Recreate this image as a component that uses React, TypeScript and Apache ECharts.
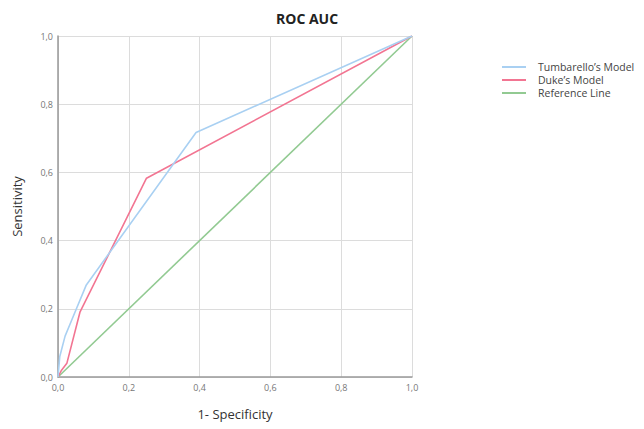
import React, { useEffect, useRef } from "react";
import * as echarts from "echarts";

const tumbFpr = [0, 0.005, 0.02, 0.04, 0.08, 0.39, 1];
const tumbTpr = [0, 0.06, 0.12, 0.17, 0.27, 0.717, 1];
const dukeFpr = [0, 0.01, 0.025, 0.062, 0.25, 1];
const dukeTpr = [0, 0.02, 0.04, 0.19, 0.583, 1];
const refFpr = [0, 1];
const refTpr = [0, 1];
const seriesNames = ["Tumbarello\u2019s Model", "Duke\u2019s Model", "Reference Line"];
const colors = ["#A9D0F2", "#F27592", "#92CA92"];

const pairs = (xs: number[], ys: number[]) => xs.map((x, i) => [x, ys[i]]);

export default function App() {
  const ref = useRef<HTMLDivElement>(null);
  useEffect(() => {
    const chart = echarts.init(ref.current!, null, { renderer: "svg" });
    const font = "'Open Sans', 'Noto Sans', sans-serif";
    const datasets = [pairs(tumbFpr, tumbTpr), pairs(dukeFpr, dukeTpr), pairs(refFpr, refTpr)];
    chart.setOption({
      animation: false,
      textStyle: { fontFamily: font },
      title: {
        text: "ROC AUC",
        left: 271,
        top: 6,
        textStyle: { fontSize: 14, fontWeight: "bold", color: "#222", fontFamily: font },
      },
      legend: {
        orient: "vertical",
        left: 497,
        top: 56,
        itemWidth: 24,
        itemHeight: 2,
        itemGap: 1,
        icon: "rect",
        data: seriesNames,
        textStyle: { fontSize: 10.5, lineHeight: 12, color: "#444", fontFamily: font, padding: [0, 0, 0, 7] },
      },
      grid: { left: 58, right: 232, top: 36, bottom: 52 },
      xAxis: {
        type: "value",
        min: 0,
        max: 1,
        interval: 0.2,
        name: "1- Specificity",
        nameLocation: "middle",
        nameGap: 30,
        nameTextStyle: { fontSize: 13, color: "#333", fontFamily: font },
        axisLine: { lineStyle: { color: "#999", width: 1.5 } },
        axisTick: { show: false },
        axisLabel: {
          fontSize: 9,
          color: "#777",
          margin: 6,
          formatter: (v: number) => v.toFixed(1).replace(".", ","),
        },
        splitLine: { show: true, lineStyle: { color: "#dcdcdc", width: 1 } },
      },
      yAxis: {
        type: "value",
        min: 0,
        max: 1,
        interval: 0.2,
        name: "Sensitivity",
        nameLocation: "middle",
        nameGap: 35,
        nameTextStyle: { fontSize: 13, color: "#333", fontFamily: font },
        axisLine: { show: true, lineStyle: { color: "#999", width: 1.5 } },
        axisTick: { show: false },
        axisLabel: {
          fontSize: 9,
          color: "#777",
          margin: 5,
          formatter: (v: number) => v.toFixed(1).replace(".", ","),
        },
        splitLine: { show: true, lineStyle: { color: "#dcdcdc", width: 1 } },
      },
      series: seriesNames.map((name, i) => ({
        name,
        type: "line",
        data: datasets[i],
        showSymbol: false,
        symbol: "none",
        lineStyle: { color: colors[i], width: 1.6 },
        itemStyle: { color: colors[i] },
        z: 3 - i,
      })),
    });
    return () => chart.dispose();
  }, []);
  return <div ref={ref} style={{ width: 644, height: 429, position: "absolute", left: 0, top: 0 }} />;
}
